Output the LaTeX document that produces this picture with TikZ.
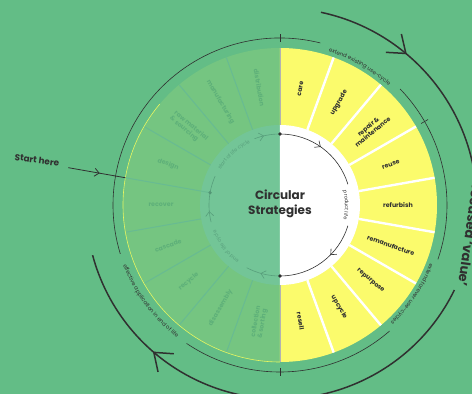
\documentclass[tikz,border=0pt]{standalone}
\usepackage{fontspec}
\setmainfont{Poppins}
\usetikzlibrary{arrows.meta,decorations.markings,decorations.text}

\definecolor{field}{RGB}{99,189,134}
\definecolor{ring}{RGB}{117,197,129}
\definecolor{core}{RGB}{115,197,151}
\definecolor{spoke}{RGB}{104,187,146}
\definecolor{faded}{RGB}{94,176,121}
\definecolor{lemon}{RGB}{251,251,108}
\definecolor{ink}{RGB}{48,48,48}
\definecolor{glow}{RGB}{232,246,96}

\begin{document}
\begin{tikzpicture}[x=1pt,y=1pt,
		strategy label/.style={font=\fontsize{6.3}{6.9}\selectfont\bfseries,text=ink,align=center,inner sep=0pt},
		faded label/.style={font=\fontsize{6.3}{6.9}\selectfont\bfseries,text=faded,align=left,inner sep=0pt},
		white spoke/.style={white,line width=2.4pt},
		green spoke/.style={spoke,line width=1pt},
		life arc/.style={ink,line width=0.6pt},
		cycle arc/.style={spoke!85!black,line width=0.6pt},
		rim arc/.style={ink,line width=0.6pt},
		big arc/.style={ink,line width=1.5pt},
		mid arrow/.style={postaction={decorate,decoration={markings,mark=at position #1 with {\arrow{Straight Barb[length=4.5pt,width=8pt]}}}}},
		big arrow/.style={postaction={decorate,decoration={markings,mark=at position #1 with {\arrow{Straight Barb[length=16pt,width=24pt]}}}}},
		rim text/.style={decorate,decoration={text along path,text align=center,text={|\fontsize{5.5}{6}\selectfont\color{ink}|#1}}},
		life text/.style={decorate,decoration={text along path,text align=center,text={|\fontsize{5}{6}\selectfont\color{ink}|#1}}},
		cycle text/.style={decorate,decoration={text along path,text align=center,text={|\fontsize{5}{6}\selectfont\color{spoke!85!black}|#1}}}]

		\useasboundingbox (-280,-189) rectangle (192,205);
		\fill[field] (-280,-189) rectangle (192,205);
		\clip (-280,-189) rectangle (192,205);

		\fill[ring] (90:157) arc[start angle=90,end angle=270,radius=157pt] -- cycle;
		\fill[lemon] (-90:157) arc[start angle=-90,end angle=90,radius=157pt] -- cycle;
		\fill[core] (90:80) arc[start angle=90,end angle=270,radius=80pt] -- cycle;
		\fill[white] (-90:80) arc[start angle=-90,end angle=90,radius=80pt] -- cycle;

		\foreach \a in {70,50,...,-70}
			\draw[white spoke] (\a:80) -- (\a:157);
		\foreach \a in {110,130,150,190,210,230,250}
			\draw[green spoke] (\a:80) -- (\a:157);
		\draw[glow,line width=0.6pt] (140:157) arc[start angle=140,end angle=270,radius=157pt];
		\draw[gray!60,line width=0.5pt] (90:80) -- (90:157) (270:80) -- (270:157);

		\foreach \a/\t [count=\i] in {80/care,60/upgrade,40/{repair \&\\maintenance},20/reuse,0/refurbish,
				-20/remanufacture,-40/repurpose,-60/upcycle,-80/resell}
			\node[strategy label,rotate=\a] (r\i) at (\a:118) {\t};
		\foreach \a/\t [count=\i] in {100/distribution,120/manufacturing,140/{raw material\\\& sourcing},160/design,
				180/recover,200/cascade,220/recycle,240/disassembly,260/{collection\\\& sorting}}
			\node[faded label,rotate=\a-180] (l\i) at (\a:119) {\t};

		\node[font=\fontsize{12}{14.5}\selectfont\bfseries,text=ink,align=center] (title) at (0,1) {Circular\\Strategies};

		\coordinate (top) at (90:71);
		\coordinate (bottom) at (-90:71);
		\coordinate (entry) at (170:71);
		\coordinate (rim) at (170:157);
		\coordinate (tail) at (170:215);

		\draw[life arc,mid arrow=0.48] (top) arc[start angle=90,end angle=17,radius=71pt];
		\draw[life arc,mid arrow=0.38] (-17:71) arc[start angle=-17,end angle=-90,radius=71pt];
		\path[life text={product life}] (18:65) arc[start angle=18,end angle=-18,radius=65pt];

		\draw[cycle arc] (entry) arc[start angle=170,end angle=156,radius=71pt];
		\draw[cycle arc,mid arrow=0.38] (111:71) arc[start angle=111,end angle=90,radius=71pt];
		\draw[cycle arc,mid arrow=0.57] (bottom) arc[start angle=270,end angle=242,radius=71pt];
		\draw[cycle arc,mid arrow=0.375] (194:71) arc[start angle=194,end angle=170,radius=71pt];
		\path[cycle text={start of life cycle}] (160:69) arc[start angle=160,end angle=105,radius=69pt];
		\path[cycle text={end of life cycle}] (245:69) arc[start angle=245,end angle=190,radius=69pt];

		\draw[green spoke] (entry) -- (rim);
		\fill[ink] (top) circle (1.8pt);
		\fill[ink] (bottom) circle (1.8pt);
		\fill[spoke!80!black] (entry) circle (1.8pt);

		\node[font=\fontsize{8.8}{10}\selectfont\bfseries,text=ink,rotate=-8] (start) at (-243,45) {Start here};
		\draw[ink,line width=0.8pt,mid arrow=0.55] (tail) -- (rim);

		\draw[rim arc] (76:167) arc[start angle=76,end angle=197,radius=167pt];
		\draw[rim arc] (44:167) arc[start angle=44,end angle=-19,radius=167pt];
		\draw[rim arc] (-49:167) arc[start angle=-49,end angle=-124,radius=167pt];
		\foreach \a in {90,30,-90}
			\draw[rim arc] (\a:163) -- (\a:171);
		\path[rim text={extend existing use-cycle}] (82:161) arc[start angle=82,end angle=38,radius=161pt];
		\path[rim text={extend forever use-cycles}] (-12:161) arc[start angle=-12,end angle=-56,radius=161pt];
		\path[rim text={effective application in end of life}] (193:168) arc[start angle=193,end angle=240,radius=168pt];

		\draw[big arc,big arrow=0.36] (78:197) arc[start angle=78,end angle=0,radius=197pt];
		\draw[big arc,big arrow=0.755] (-26:194) arc[start angle=-26,end angle=-165,radius=194pt];
		\node[font=\fontsize{13}{14}\selectfont\bfseries,text=ink,rotate=-98] (value) at (190,-31) {focused ‘value’};
		\end{tikzpicture}
\end{document}
